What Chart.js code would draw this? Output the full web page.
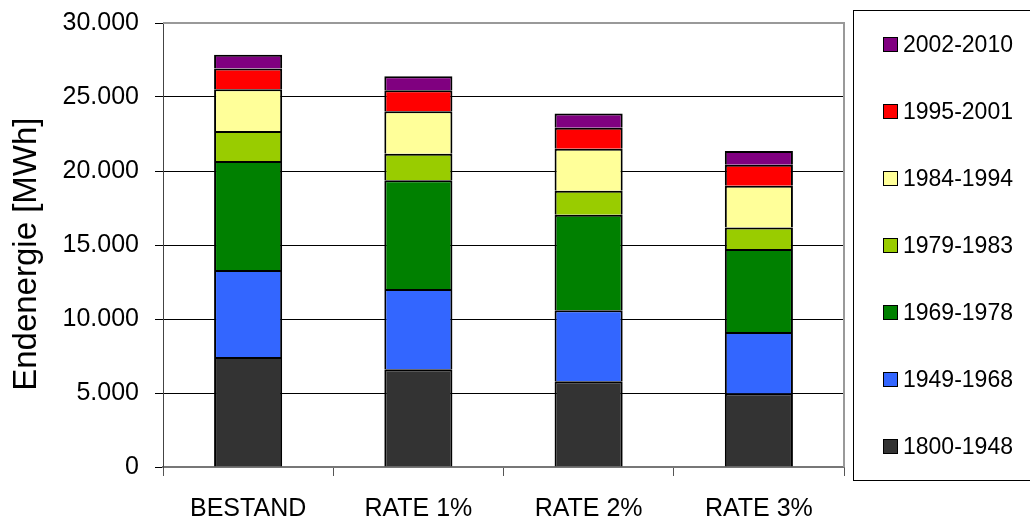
<!DOCTYPE html>
<html>
<head>
<meta charset="utf-8">
<script src="https://cdn.jsdelivr.net/npm/chart.js@4/dist/chart.umd.min.js"></script>
<style>
  body { margin: 0; background: #fff; }
  #wrap { position: relative; width: 1030px; height: 523px; overflow: hidden; }
  #legendBox {
    position: absolute; left: 853px; top: 10px; width: 200px; height: 469px;
    border: 1px solid #000; box-sizing: content-box;
    font-family: "Liberation Sans", Arial, sans-serif; font-size: 23px; color: #000;
  }
  .item { height: 67px; display: flex; align-items: center; padding-left: 29px; }
  .swatch { width: 13px; height: 13px; border: 1px solid #000; margin-right: 5px; }
</style>
</head>
<body>
<div id="wrap">
  <canvas id="chart" width="1030" height="523"></canvas>
  <div id="legendBox"></div>
</div>
<script>
const categories = ["BESTAND", "RATE 1%", "RATE 2%", "RATE 3%"];

const seriesNames = ["1800-1948", "1949-1968", "1969-1978", "1979-1983", "1984-1994", "1995-2001", "2002-2010"];
const seriesColors = ["#333333", "#3366FF", "#008000", "#99CC00", "#FFFF99", "#FF0000", "#800080"];

// MWh per Baualtersklasse, one list per class (BESTAND, RATE 1%, RATE 2%, RATE 3%)
const v1800_1948 = [7430, 6600, 5790, 4960];
const v1949_1968 = [5880, 5430, 4800, 4160];
const v1969_1978 = [7370, 7340, 6460, 5610];
const v1979_1983 = [2020, 1800, 1620, 1450];
const v1984_1994 = [2820, 2860, 2840, 2830];
const v1995_2001 = [1400, 1420, 1420, 1420];
const v2002_2010 = [940, 950, 950, 920];

const yTicks = [0, 5000, 10000, 15000, 20000, 25000, 30000];

const seriesValues = [v1800_1948, v1949_1968, v1969_1978, v1979_1983, v1984_1994, v1995_2001, v2002_2010];

const fmt = (v) => String(v).replace(/\B(?=(\d{3})+(?!\d))/g, ".");

const datasets = seriesNames.map((name, i) => ({
  label: name,
  data: seriesValues[i],
  backgroundColor: seriesColors[i],
  borderColor: "#000",
  borderWidth: 2,
  borderSkipped: "start",
  inflateAmount: 0,
  barPercentage: 0.4,
  categoryPercentage: 1
}));

// plot area frame (Excel style grey border)
const frame = {
  id: "frame",
  beforeDatasetsDraw(chart) {
    const {ctx, chartArea} = chart;
    ctx.save();
    ctx.strokeStyle = "#999";
    ctx.lineWidth = 2;
    ctx.beginPath();
    ctx.moveTo(chartArea.left, chartArea.top);
    ctx.lineTo(chartArea.right, chartArea.top);
    ctx.lineTo(chartArea.right, chartArea.bottom);
    ctx.stroke();
    ctx.restore();
  }
};

const chart = new Chart(document.getElementById("chart"), {
  type: "bar",
  data: { labels: categories, datasets: datasets },
  plugins: [frame],
  options: {
    responsive: false,
    animation: false,
    layout: { padding: { top: 23, right: 186, left: 0, bottom: 0 } },
    plugins: {
      legend: { display: false },
      tooltip: { enabled: false }
    },
    scales: {
      x: {
        stacked: true,
        offset: true,
        grid: { offset: true, drawOnChartArea: false, drawTicks: true, tickLength: 9, color: "#555", lineWidth: 1 },
        border: { display: true, color: "#777", width: 2 },
        ticks: {
          color: "#000",
          padding: 18,
          font: { family: "'Liberation Sans', Arial, sans-serif", size: 25 }
        },
        afterFit: (scale) => { scale.height = 56; }
      },
      y: {
        stacked: true,
        min: 0,
        max: 30000,
        afterBuildTicks: (scale) => { scale.ticks = yTicks.map(v => ({ value: v })); },
        grid: {
          color: (c) => c.tick && c.tick.value === 30000 ? "#999" : "#000",
          tickColor: "#000",
          tickLength: 8,
          lineWidth: 1
        },
        border: { display: true, color: "#444", width: 1 },
        ticks: {
          color: "#000",
          padding: 16,
          font: { family: "'Liberation Sans', Arial, sans-serif", size: 25 },
          callback: (v) => fmt(v)
        },
        title: {
          display: true,
          text: "Endenergie [MWh]  ",
          color: "#000",
          padding: { top: 7, bottom: 0 },
          font: { family: "'Liberation Sans', Arial, sans-serif", size: 33, weight: "normal" }
        },
        afterFit: (scale) => {
          scale.width = 163;
          scale.paddingTop = 0;
          scale.paddingBottom = 0;
        }
      }
    }
  }
});

// HTML legend, top entry = newest class
const box = document.getElementById("legendBox");
chart.data.datasets.slice().reverse().forEach(ds => {
  const item = document.createElement("div");
  item.className = "item";
  const sw = document.createElement("span");
  sw.className = "swatch";
  sw.style.background = ds.backgroundColor;
  const txt = document.createElement("span");
  txt.textContent = ds.label;
  item.appendChild(sw);
  item.appendChild(txt);
  box.appendChild(item);
});
</script>
</body>
</html>
